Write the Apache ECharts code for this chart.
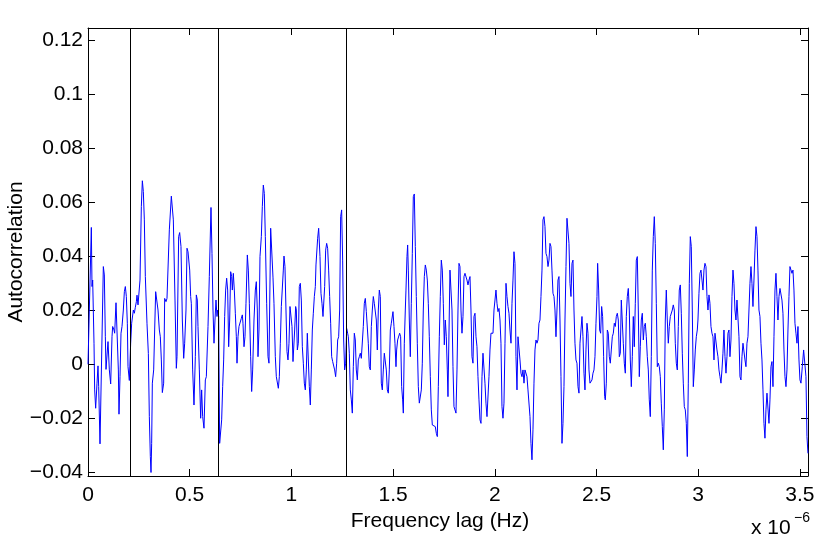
<!DOCTYPE html>
<html><head><meta charset="utf-8">
<script src="https://cdn.jsdelivr.net/npm/echarts@6/dist/echarts.min.js"></script>
<style>html,body{margin:0;padding:0;background:#fff}#c{width:830px;height:547px}</style>
</head><body><div id="c"></div>
<script>
// Frequency lag in units of 1e-6 Hz (axis shows "x 10^-6")
const lag = [
0,0.0164,0.0197,0.0230,0.0295,0.0328,0.0377,0.0443,0.0492,0.0525,
0.0590,0.0754,0.0803,0.0852,0.0885,0.0918,0.0984,0.1049,0.1115,0.1180,
0.1213,0.1279,0.1311,0.1377,0.1426,0.1492,0.1524,0.1574,0.1623,0.1672,
0.1737,0.1787,0.1836,0.1885,0.1934,0.1967,0.2032,0.2098,0.2147,0.2196,
0.2229,0.2278,0.2327,0.2377,0.2409,0.2459,0.2508,0.2557,0.2622,0.2672,
0.2721,0.2770,0.2819,0.2901,0.2967,0.3016,0.3065,0.3098,0.3130,0.3163,
0.3229,0.3278,0.3327,0.3393,0.3442,0.3507,0.3556,0.3606,0.3655,0.3720,
0.3770,0.3835,0.3884,0.3999,0.4097,0.4147,0.4196,0.4278,0.4343,0.4376,
0.4458,0.4507,0.4572,0.4638,0.4704,0.4753,0.4818,0.4868,0.4917,
0.5000,0.5048,0.5080,0.5146,0.5211,0.5277,0.5326,0.5375,0.5408,0.5474,
0.5539,0.5588,0.5638,0.5703,0.5769,0.5818,0.5900,0.5965,0.6047,0.6096,
0.6146,0.6195,0.6244,0.6293,0.6342,0.6375,0.6424,0.6473,0.6522,0.6572,
0.6621,0.6670,0.6719,0.6768,0.6817,0.6867,0.6916,0.6965,0.7014,0.7063,
0.7096,0.7145,0.7194,0.7244,0.7293,0.7326,0.7375,0.7424,0.7489,0.7538,
0.7588,0.7620,0.7670,0.7719,0.7768,0.7834,0.7883,0.7932,0.7997,0.8047,
0.8096,0.8161,0.8227,0.8276,0.8325,0.8358,0.8407,0.8456,0.8522,0.8571,
0.8620,0.8669,0.8718,0.8784,0.8850,0.8898,0.8981,0.9030,0.9095,0.9144,
0.9210,0.9259,0.9308,0.9358,0.9407,0.9456,0.9505,0.9554,0.9603,0.9636,
0.9685,0.9734,0.9784,0.9833,0.9882,
0.9931,0.9980,1.0030,1.0079,1.0111,1.0161,1.0210,1.0243,1.0292,1.0341,
1.0390,1.0439,1.0488,1.0538,1.0587,1.0636,1.0685,1.0734,1.0783,1.0833,
1.0882,1.0931,1.0980,1.1029,1.1078,1.1128,1.1177,1.1209,1.1259,1.1291,
1.1341,1.1373,1.1406,1.1455,1.1504,1.1554,1.1603,1.1636,1.1685,1.1734,
1.1783,1.1832,1.1881,1.1931,1.1980,1.2029,1.2078,1.2127,1.2176,1.2226,
1.2275,1.2324,1.2373,1.2422,1.2471,1.2520,1.2570,1.2619,1.2668,1.2717,
1.2766,1.2799,1.2848,1.2897,1.2947,1.2996,1.3045,1.3094,1.3143,1.3192,
1.3242,1.3291,1.3340,1.3389,1.3438,1.3487,1.3536,1.3586,1.3635,1.3684,
1.3733,1.3782,1.3831,1.3881,1.3930,1.3979,1.4028,1.4077,1.4126,1.4176,
1.4225,1.4274,1.4323,1.4372,1.4421,1.4471,1.4520,1.4569,1.4618,1.4667,
1.4716,1.4766,1.4815,1.4864,1.4913,
1.4995,1.5044,1.5093,1.5143,1.5175,1.5224,1.5274,1.5323,1.5372,1.5421,
1.5470,1.5503,1.5552,1.5601,1.5634,1.5683,1.5716,1.5749,1.5798,1.5847,
1.5896,1.5946,1.5995,1.6044,1.6093,1.6142,1.6191,1.6241,1.6290,1.6339,
1.6388,1.6437,1.6486,1.6536,1.6585,1.6634,1.6683,1.6732,1.6781,1.6831,
1.6880,1.6929,1.6978,1.7027,1.7076,1.7126,1.7175,1.7224,1.7273,1.7322,
1.7371,1.7421,1.7470,1.7519,1.7568,1.7617,1.7666,1.7699,1.7748,1.7797,
1.7847,1.7896,1.7945,1.7994,1.8043,1.8092,1.8142,1.8191,1.8240,1.8289,
1.8338,1.8387,1.8437,1.8486,1.8535,1.8584,1.8633,1.8682,1.8732,1.8781,
1.8830,1.8879,1.8928,1.8977,1.9027,1.9076,1.9125,1.9174,1.9223,1.9272,
1.9322,1.9371,1.9420,1.9469,1.9518,1.9567,1.9617,1.9666,1.9715,1.9764,
1.9813,1.9862,1.9912,1.9961,
2.0059,2.0108,2.0157,2.0207,2.0256,2.0305,2.0354,2.0403,2.0452,2.0502,
2.0551,2.0600,2.0649,2.0698,2.0747,2.0797,2.0846,2.0895,2.0944,2.0993,
2.1042,2.1092,2.1141,2.1190,2.1239,2.1288,2.1337,2.1387,2.1436,2.1485,
2.1534,2.1583,2.1632,2.1682,2.1731,2.1780,2.1829,2.1878,2.1927,2.1976,
2.2026,2.2075,2.2124,2.2173,2.2222,2.2271,2.2321,2.2370,2.2419,2.2468,
2.2517,2.2566,2.2616,2.2665,2.2714,2.2763,2.2812,2.2861,2.2911,2.2960,
2.3009,2.3058,2.3107,2.3156,2.3206,2.3255,2.3304,2.3353,2.3402,2.3451,
2.3501,2.3550,2.3599,2.3648,2.3697,2.3746,2.3796,2.3845,2.3894,2.3943,
2.3992,2.4041,2.4091,2.4140,2.4189,2.4238,2.4287,2.4336,2.4386,2.4435,
2.4484,2.4533,2.4582,2.4631,2.4681,2.4730,2.4779,2.4828,2.4877,2.4926,
2.4975,
2.5025,2.5057,2.5107,2.5156,2.5205,2.5254,2.5303,2.5352,2.5402,2.5434,
2.5483,2.5533,2.5582,2.5631,2.5680,2.5729,2.5778,2.5828,2.5877,2.5926,
2.5975,2.6024,2.6073,2.6123,2.6172,2.6221,2.6270,2.6319,2.6368,2.6418,
2.6467,2.6516,2.6565,2.6614,2.6663,2.6713,2.6762,2.6811,2.6860,2.6909,
2.6958,2.7008,2.7057,2.7106,2.7155,2.7204,2.7253,2.7303,2.7352,2.7401,
2.7450,2.7499,2.7548,2.7597,2.7647,2.7696,2.7745,2.7794,2.7843,2.7892,
2.7942,2.7991,2.8040,2.8089,2.8138,2.8187,2.8237,2.8286,2.8335,2.8384,
2.8433,2.8482,2.8532,2.8581,2.8630,2.8679,2.8728,2.8777,2.8827,2.8876,
2.8925,2.8974,2.9023,2.9072,2.9122,2.9171,2.9220,2.9269,2.9318,2.9367,
2.9417,2.9466,2.9515,2.9564,2.9613,2.9662,2.9712,2.9761,2.9810,2.9859,
2.9908,2.9957,
2.9990,3.0039,3.0089,3.0138,3.0187,3.0236,3.0285,3.0334,3.0384,3.0433,
3.0482,3.0531,3.0580,3.0629,3.0679,3.0728,3.0777,3.0826,3.0875,3.0924,
3.0973,3.1023,3.1072,3.1121,3.1170,3.1219,3.1268,3.1318,3.1367,3.1416,
3.1465,3.1514,3.1563,3.1613,3.1662,3.1711,3.1760,3.1809,3.1858,3.1908,
3.1957,3.2006,3.2055,3.2104,3.2153,3.2203,3.2252,3.2301,3.2350,3.2399,
3.2448,3.2498,3.2547,3.2596,3.2645,3.2694,3.2743,3.2793,3.2842,3.2891,
3.2940,3.2989,3.3038,3.3088,3.3137,3.3186,3.3235,3.3284,3.3333,3.3383,
3.3432,3.3481,3.3530,3.3579,3.3628,3.3678,3.3727,3.3776,3.3825,3.3874,
3.3923,3.3973,3.4022,3.4071,3.4120,3.4169,3.4218,3.4268,3.4317,3.4366,
3.4415,3.4464,3.4513,3.4563,3.4612,3.4661,3.4710,3.4759,3.4808,3.4858,
3.4907,3.4956,3.5005,3.5054,3.5120,3.5185,3.5251,3.5300,3.5349,3.5398
];
const autocorr = [
0.000,0.0507,0.0288,0.0312,0.0078,-0.0095,-0.0163,-0.0070,-0.0006,-0.0083,
-0.0295,0.0362,0.0331,0.0102,-0.0019,0.0016,0.0084,-0.0021,-0.0073,0.0102,
0.0140,0.0127,0.0115,0.0228,0.0226,-0.0021,-0.0185,-0.0046,0.0115,0.0140,
0.0201,0.0269,0.0288,0.0251,0.0152,-0.0009,-0.0060,0.0078,0.0152,0.0152,
0.0201,0.0189,0.0211,0.0232,0.0256,0.0220,0.0226,0.0312,0.0584,0.0680,
0.0640,0.0535,0.0325,0.0150,0.0040,-0.0194,-0.0342,-0.0401,-0.0293,-0.0070,
-0.0021,0.0127,0.0269,0.0263,0.0201,0.0127,0.0102,0.0016,-0.0105,-0.0070,
0.0244,0.0232,0.0244,0.0498,0.0623,0.0618,0.0535,0.0238,-0.0015,0.0028,
0.0473,0.0488,0.0436,0.0164,0.0022,0.0078,0.0201,0.0430,0.0417,
0.0349,0.0251,0.0226,-0.0021,-0.0151,0.0028,0.0257,0.0238,0.0140,-0.0021,
-0.0200,-0.0095,-0.0194,-0.0237,-0.0058,-0.0046,0.0140,0.0325,0.0581,0.0411,
0.0201,0.0078,0.0164,0.0238,0.0177,0.0201,0.0177,-0.0293,-0.0293,-0.0206,
-0.0083,0.0016,0.0177,0.0275,0.0319,0.0275,0.0065,0.0164,0.0343,0.0325,
0.0275,0.0337,0.0275,0.0189,0.0102,0.0004,0.0102,0.0140,0.0140,0.0170,
0.0183,0.0152,0.0065,0.0102,0.0226,0.0405,0.0349,0.0226,0.0028,-0.0101,
-0.0021,0.0164,0.0275,0.0306,0.0201,0.0028,0.0127,0.0399,0.0473,0.0584,
0.0664,0.0633,0.0473,0.0226,0.0028,0.0004,0.0504,0.0498,0.0323,0.0226,
0.0028,-0.0046,-0.0052,-0.0089,-0.0046,0.0078,0.0214,0.0220,0.0349,0.0401,
0.0362,0.0201,0.0047,0.0016,0.0078,
0.0214,0.0214,0.0140,0.0010,0.0004,0.0127,0.0214,0.0201,0.0053,0.0078,
0.0288,0.0300,0.0238,0.0065,0.0004,-0.0070,-0.0095,-0.0021,0.0115,0.0115,
-0.0083,-0.0151,-0.0021,0.0127,0.0189,0.0251,0.0288,0.0368,0.0374,0.0467,
0.0504,0.0498,0.0399,0.0263,0.0226,0.0177,0.0170,0.0288,0.0423,0.0448,
0.0430,0.0349,0.0251,0.0152,0.0028,0.0010,0.0004,-0.0021,-0.0046,0.0004,
0.0090,0.0102,0.0201,0.0547,0.0572,0.0386,0.0090,-0.0021,0.0004,0.0133,
0.0115,0.0102,0.0041,-0.0095,-0.0132,-0.0181,-0.0009,0.0115,0.0090,-0.0021,
-0.0058,0.0016,0.0028,0.0041,0.0022,0.0022,0.0140,0.0226,0.0244,0.0195,
0.0201,0.0078,-0.0009,-0.0021,0.0140,0.0201,0.0251,0.0226,0.0226,0.0164,
0.0053,0.0201,0.0275,0.0251,-0.0070,-0.0095,-0.0021,0.0041,0.0047,-0.0021,
-0.0095,-0.0107,-0.0021,0.0127,0.0152,
0.0195,0.0140,0.0078,-0.0009,0.0053,0.0090,0.0090,0.0115,0.0102,-0.0083,
-0.0132,-0.0181,0.0078,0.0201,0.0275,0.0399,0.0442,0.0349,0.0164,0.0028,
0.0226,0.0411,0.0621,0.0631,0.0436,0.0251,0.0078,-0.0083,-0.0144,-0.0151,
-0.0095,0.0004,0.0201,0.0325,0.0368,0.0349,0.0312,0.0226,0.0102,-0.0046,
-0.0169,-0.0225,-0.0231,-0.0219,-0.0231,-0.0256,-0.0268,-0.0083,0.0102,0.0251,
0.0386,0.0349,0.0226,0.0072,0.0164,0.0102,-0.0021,-0.0120,-0.0120,0.0349,
0.0349,0.0201,-0.0009,-0.0157,-0.0169,-0.0181,-0.0021,0.0201,0.0374,0.0362,
0.0201,0.0115,0.0177,0.0325,0.0337,0.0331,0.0312,0.0294,0.0312,0.0325,
0.0201,0.0028,0.0004,0.0177,0.0189,0.0102,0.0065,-0.0046,-0.0132,-0.0206,
-0.0219,-0.0046,0.0041,0.0041,-0.0070,-0.0144,-0.0194,-0.0194,-0.0046,0.0053,
0.0115,0.0109,0.0115,0.0201,
0.0275,0.0226,0.0195,0.0207,0.0164,0.0078,-0.0157,-0.0200,-0.0144,0.0078,
0.0300,0.0251,0.0214,0.0189,0.0127,0.0078,0.0226,0.0312,0.0417,0.0374,
0.0028,-0.0095,0.0102,0.0102,0.0016,-0.0033,-0.0046,-0.0021,-0.0070,-0.0021,
-0.0027,-0.0046,-0.0095,-0.0101,-0.0194,-0.0293,-0.0354,-0.0243,-0.0070,0.0053,
0.0090,0.0078,0.0090,0.0152,0.0164,0.0251,0.0349,0.0535,0.0547,0.0510,
0.0411,0.0399,0.0362,0.0386,0.0448,0.0436,0.0349,0.0263,0.0251,0.0201,
0.0102,0.0201,0.0312,0.0325,0.0164,-0.0046,-0.0293,-0.0219,-0.0083,0.0164,
0.0362,0.0541,0.0547,0.0448,0.0300,0.0251,0.0374,0.0386,0.0201,0.0078,
0.0016,0.0004,-0.0083,-0.0107,0.0078,0.0127,0.0177,0.0102,-0.0033,-0.0095,
0.0053,0.0152,0.0115,-0.0021,-0.0070,-0.0070,-0.0058,-0.0033,-0.0021,0.0028,
0.0150,
0.0251,0.0374,0.0275,0.0127,0.0115,0.0214,0.0177,0.0028,-0.0120,-0.0132,
-0.0070,0.0127,0.0115,0.0028,0.0004,0.0053,0.0102,0.0115,0.0152,0.0140,
0.0177,0.0189,0.0164,0.0028,0.0041,0.0238,0.0238,0.0078,0.0004,-0.0033,
0.0177,0.0251,0.0281,0.0201,0.0016,-0.0083,0.0028,0.0177,0.0065,0.0226,
0.0386,0.0399,0.0201,-0.0046,0.0065,0.0164,0.0189,0.0090,0.0140,0.0152,
0.0102,0.0028,-0.0021,-0.0132,-0.0194,0.0028,0.0349,0.0473,0.0547,0.0448,
0.0226,-0.0009,0.0004,-0.0009,-0.0046,-0.0144,-0.0231,-0.0317,-0.0169,0.0164,
0.0275,0.0164,0.0078,0.0140,0.0177,0.0183,0.0201,0.0220,0.0201,0.0078,
0.0004,-0.0021,0.0140,0.0275,0.0294,0.0189,0.0041,-0.0070,-0.0157,-0.0169,
-0.0219,-0.0342,-0.0070,0.0300,0.0473,0.0436,0.0201,-0.0083,-0.0021,0.0053,
0.0102,0.0127,
0.0164,0.0263,0.0337,0.0349,0.0312,0.0275,0.0349,0.0374,0.0362,0.0251,
0.0201,0.0257,0.0226,0.0140,0.0115,0.0102,0.0016,0.0115,0.0115,0.0053,
0.0028,-0.0021,-0.0046,-0.0070,-0.0021,0.0041,0.0127,0.0028,-0.0033,0.0028,
0.0115,0.0127,0.0028,0.0090,0.0251,0.0349,0.0300,0.0201,0.0164,0.0238,
0.0238,0.0102,-0.0046,-0.0058,0.0028,0.0078,0.0078,0.0016,-0.0009,0.0078,
0.0102,0.0102,0.0300,0.0362,0.0300,0.0214,0.0312,0.0423,0.0510,0.0473,
0.0349,0.0201,0.0177,0.0078,0.0016,-0.0095,-0.0219,-0.0274,-0.0169,-0.0107,
-0.0101,-0.0219,-0.0132,-0.0009,0.0010,-0.0083,0.0102,0.0275,0.0337,0.0251,
0.0164,0.0251,0.0281,0.0281,0.0238,0.0189,0.0053,-0.0046,-0.0083,-0.0021,
0.0127,0.0251,0.0362,0.0362,0.0337,0.0349,0.0275,0.0152,0.0115,0.0078,
0.0140,0.0016,-0.0058,-0.0070,-0.0009,0.0053,0.0059,-0.0046,-0.0268,-0.0330
];
const markerLags = [0.2065, 0.6426, 1.2719];
const xTicks = [0, 0.5, 1, 1.5, 2, 2.5, 3, 3.5];
const yTicks = [-0.04, -0.02, 0, 0.02, 0.04, 0.06, 0.08, 0.1, 0.12];
const xRange = [0, 3.54];
const yRange = [-0.0414, 0.1246];
const xTitle = 'Frequency lag (Hz)';
const yTitle = 'Autocorrelation';

const n = Math.min(lag.length, autocorr.length);
if (lag.length !== autocorr.length) console.error('length mismatch', lag.length, autocorr.length);
const points = [];
for (let i = 0; i < n; i++) points.push([lag[i], autocorr[i]]);

const FONT = '"Liberation Sans", Arial, Helvetica, sans-serif';
const fmtX = v => String(+(+v).toFixed(2));
const fmtY = v => { const r = +(+v).toFixed(4); return r < 0 ? '\u2212' + String(-r) : String(r); };

function axisBase(isX, pos, showLabels) {
  const ticks = isX ? xTicks : yTicks;
  const rng = isX ? xRange : yRange;
  return {
    type: 'value', position: pos, min: rng[0], max: rng[1],
    axisLine: { show: true, onZero: false, lineStyle: { color: '#000', width: 1 } },
    axisTick: { show: true, inside: true, length: 7, customValues: ticks, lineStyle: { color: '#000', width: 1 } },
    axisLabel: { show: showLabels, customValues: ticks, formatter: isX ? fmtX : fmtY,
      color: '#000', fontSize: 21, fontFamily: FONT, margin: isX ? 9 : 5 },
    splitLine: { show: false }
  };
}

const xMain = Object.assign(axisBase(true, 'bottom', true), {
  name: xTitle, nameLocation: 'middle', nameGap: 35, nameMoveOverlap: false,
  nameTextStyle: { color: '#000', fontSize: 21, fontFamily: FONT, padding: [0, 16, 0, 0] }
});
const yMain = Object.assign(axisBase(false, 'left', true), {
  name: yTitle, nameLocation: 'middle', nameGap: 61, nameRotate: 90, nameMoveOverlap: false,
  nameTextStyle: { color: '#000', fontSize: 21, fontFamily: FONT }
});

const chart = echarts.init(document.getElementById('c'), null, { renderer: 'canvas' });
chart.setOption({
  animation: false,
  backgroundColor: '#fff',
  grid: { left: 88, top: 28, right: 22, bottom: 71, containLabel: false, outerBoundsMode: 'none' },
  xAxis: [xMain, axisBase(true, 'top', false)],
  yAxis: [yMain, axisBase(false, 'right', false)],
  series: [{
    type: 'line', xAxisIndex: 0, yAxisIndex: 0,
    data: points, showSymbol: false, symbol: 'none', smooth: false,
    lineStyle: { color: '#0000ff', width: 1 },
    emphasis: { disabled: true },
    markLine: {
      silent: true, symbol: ['none', 'none'], animation: false,
      label: { show: false },
      lineStyle: { color: '#000', width: 1, type: 'solid' },
      emphasis: { disabled: true },
      data: markerLags.map(v => ({ xAxis: v }))
    }
  }],
  graphic: [
    { type: 'text', left: 751, top: 518, silent: true,
      style: { text: 'x 10', fill: '#000', font: '21px ' + FONT } },
    { type: 'text', left: 794, top: 511, silent: true,
      style: { text: '\u22126', fill: '#000', font: '14px ' + FONT } }
  ]
});
</script>
</body></html>
